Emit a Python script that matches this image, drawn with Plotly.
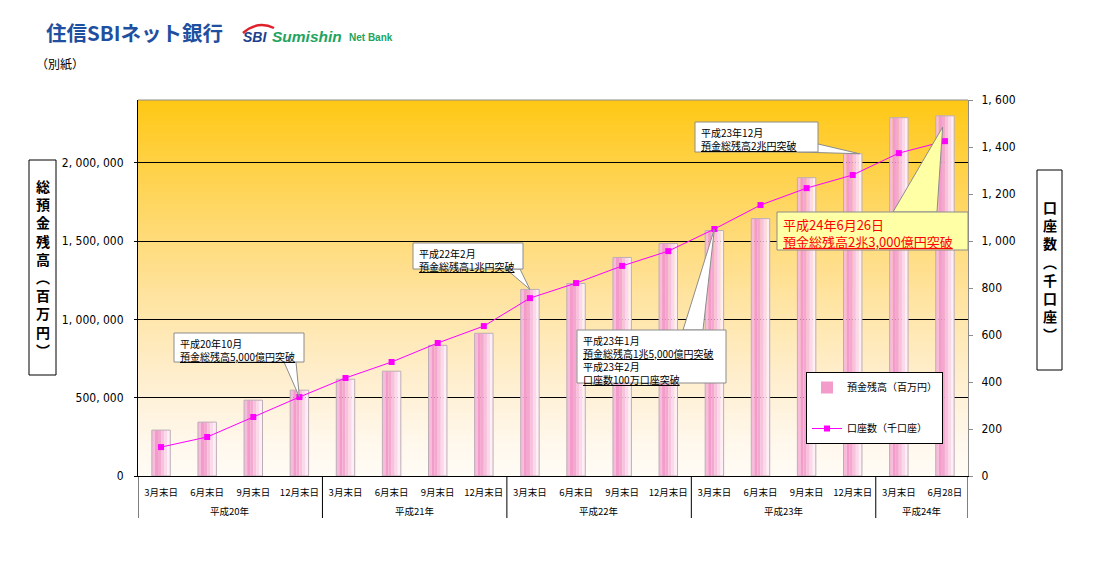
import plotly.graph_objects as go

# ---------------- data ----------------
years = ["平成20年"] * 4 + ["平成21年"] * 4 + ["平成22年"] * 4 + ["平成23年"] * 4 + ["平成24年"] * 2
periods = ["3月末日", "6月末日", "9月末日", "12月末日"] * 4 + ["3月末日", "6月28日"]
deposits = [293000, 344000, 484000, 548000, 618000, 669000, 834000, 911000,
            1191000, 1229000, 1395000, 1484000, 1567000, 1643000, 1904000, 2057000,
            2287000, 2299000]
accounts = [123, 166, 251, 336, 417, 485, 566, 638, 757, 821, 894, 957,
            1051, 1153, 1225, 1281, 1374, 1425]
left_ticks = [0, 500000, 1000000, 1500000, 2000000]
right_ticks = [0, 200, 400, 600, 800, 1000, 1200, 1400, 1600]
left_max = 2400000
right_max = 1600

# ---------------- layout geometry ----------------
W, H = 1094, 565
L, R, T, B = 138, 968, 100, 476
N = len(deposits)
idx = list(range(N))

def X(px):
    return (px - L) / (R - L)

def Y(py):
    return (B - py) / (B - T)

def cx(i, shift=0.0):
    return (i + 0.5 + shift) / N

JP = "Noto Sans CJK JP"
NUM = "Liberation Sans Narrow, DejaVu Sans Condensed, Noto Sans CJK JP"

fig = go.Figure()

bw = 0.4
stripe_colors = ["#f7bcdb", "#f39bca", "#f4a8d0", "#f8c2de", "#fbd9ea", "#feeef6"]
ns = len(stripe_colors)
for k, col in enumerate(stripe_colors):
    fig.add_trace(go.Bar(
        x=idx, y=deposits, width=bw / ns, offset=-bw / 2 + k * bw / ns,
        marker=dict(color=col, line=dict(width=0)),
        name="預金残高（百万円）", legendgroup="a",
        showlegend=(k == 1), hoverinfo="y"))
fig.add_trace(go.Bar(
    x=idx, y=deposits, width=bw, offset=-bw / 2,
    marker=dict(color="rgba(0,0,0,0)", line=dict(color="#bdaeb6", width=1)),
    showlegend=False, hoverinfo="skip"))
fig.add_trace(go.Scatter(
    x=idx, y=accounts, yaxis="y2", mode="lines+markers",
    line=dict(color="#ff00ff", width=1),
    marker=dict(symbol="square", size=6, color="#ff00ff"),
    name="口座数（千口座）", legendgroup="b"))

# ---------------- background gradient ----------------
shapes = []
steps = 90
for s in range(steps):
    y0 = s / steps
    y1 = min((s + 1.6) / steps, 1)
    t = (s + 0.5) / steps
    g = round(252 - 52 * t)
    b = round(245 - 225 * t ** 1.3)
    shapes.append(dict(type="rect", xref="paper", yref="paper", x0=0, x1=1, y0=y0, y1=y1,
                       fillcolor=f"rgb(255,{g},{max(b,0)})", line=dict(width=0), layer="below"))
shapes.append(dict(type="line", xref="paper", yref="paper", x0=0, x1=1, y0=1, y1=1,
                   line=dict(color="#8c8c8c", width=1)))

annotations = []

# ---------------- year group labels and dividers ----------------
groups = []
for i, yname in enumerate(years):
    if not groups or groups[-1][0] != yname:
        groups.append([yname, i, i])
    else:
        groups[-1][2] = i
for yname, i0, i1 in groups:
    annotations.append(dict(xref="x", yref="paper", x=(i0 + i1) / 2, y=Y(511), showarrow=False,
                            xanchor="center", yanchor="middle",
                            text=yname, font=dict(family=JP, size=9.5, color="black")))
    shapes.append(dict(type="line", xref="x", yref="paper", x0=i0 - 0.5, x1=i0 - 0.5,
                       y0=0, y1=Y(518), line=dict(color="black", width=1)))
shapes.append(dict(type="line", xref="x", yref="paper", x0=N - 0.5, x1=N - 0.5,
                   y0=0, y1=Y(518), line=dict(color="black", width=1)))

def P(px, py):
    return f"{X(px):.5f},{Y(py):.5f}"

def callout(box, base, tip, text, fill="white", color="black", size=10):
    x0, y0, x1, y1 = box
    (bx1, by1), (bx2, by2) = base
    tx, ty = tip
    shapes.append(dict(type="path", xref="paper", yref="paper",
                       path=f"M {P(bx1, by1)} L {tx:.5f},{ty:.5f} L {P(bx2, by2)} Z",
                       fillcolor=fill, line=dict(color="#8c8c8c", width=1)))
    shapes.append(dict(type="rect", xref="paper", yref="paper",
                       x0=X(x0), x1=X(x1), y0=Y(y1), y1=Y(y0),
                       fillcolor=fill, line=dict(color="#8c8c8c", width=1)))
    annotations.append(dict(xref="paper", yref="paper", x=X(x0 + 4), y=Y(y0 + 1),
                            xanchor="left", yanchor="top", align="left", showarrow=False,
                            text=text, font=dict(family=JP, size=size, color=color)))

callout((174, 333, 304, 362), ((284, 362), (296, 362)),
        (cx(3), accounts[3] / right_max),
        "平成20年10月<br><u>預金総残高5,000億円突破</u>")
callout((413, 243, 523, 269), ((506, 269), (520, 269)),
        (cx(8), deposits[8] / left_max),
        "平成22年2月<br><u>預金総残高1兆円突破</u>")
callout((577, 330, 726, 383), ((683, 330), (703, 330)),
        (cx(12), accounts[12] / right_max),
        "平成23年1月<br><u>預金総残高1兆5,000億円突破</u><br>平成23年2月<br><u>口座数100万口座突破</u>")
callout((695, 122, 818, 152), ((798, 152), (818, 144)),
        (cx(15, 0.15), deposits[15] / left_max),
        "平成23年12月<br><u>預金総残高2兆円突破</u>")
callout((777, 212, 968, 250), ((893, 212), (937, 212)),
        (cx(17, -0.05), deposits[17] / left_max - 0.03),
        "平成24年6月26日<br><u>預金総残高2兆3,000億円突破</u>",
        fill="#ffffa6", color="#ff0000", size=13)

# ---------------- axis title boxes ----------------
shapes.append(dict(type="rect", xref="paper", yref="paper", x0=X(29), x1=X(56), y0=Y(375), y1=Y(160),
                   line=dict(color="black", width=1), fillcolor="white"))
annotations.append(dict(xref="paper", yref="paper", x=X(42.5), y=Y(267.5), showarrow=False,
                        xanchor="center", yanchor="middle",
                        text="<br>".join("<b>" + c + "</b>" for c in "総預金残高︵百万円︶"),
                        font=dict(family=JP, size=14, color="black")))
shapes.append(dict(type="rect", xref="paper", yref="paper", x0=X(1037), x1=X(1062), y0=Y(370), y1=Y(170),
                   line=dict(color="black", width=1), fillcolor="white"))
annotations.append(dict(xref="paper", yref="paper", x=X(1049.5), y=Y(270), showarrow=False,
                        xanchor="center", yanchor="middle",
                        text="<br>".join("<b>" + c + "</b>" for c in "口座数︵千口座︶"),
                        font=dict(family=JP, size=14, color="black")))

# ---------------- header ----------------
annotations.append(dict(xref="paper", yref="paper", x=X(44), y=Y(32), xanchor="left", yanchor="middle",
                        showarrow=False, text="<b>住信SBIネット銀行</b>",
                        font=dict(family=JP, size=20.5, color="#1f4f9f")))
annotations.append(dict(xref="paper", yref="paper", x=X(241), y=Y(37), xanchor="left", yanchor="middle",
                        showarrow=False, text="<b><i>SBI</i></b>",
                        font=dict(family="Liberation Sans", size=14, color="#1c3f8e")))
annotations.append(dict(xref="paper", yref="paper", x=X(270), y=Y(37), xanchor="left", yanchor="middle",
                        showarrow=False, text="<b><i>Sumishin</i></b>",
                        font=dict(family="Liberation Sans", size=15.5, color="#22a35e")))
annotations.append(dict(xref="paper", yref="paper", x=X(347), y=Y(38), xanchor="left", yanchor="middle",
                        showarrow=False, text="<b>Net Bank</b>",
                        font=dict(family="Liberation Sans", size=10, color="#22a35e")))
shapes.append(dict(type="path", xref="paper", yref="paper",
                   path=f"M {P(243, 33)} Q {P(258, 20)} {P(274, 28)}",
                   line=dict(color="#e0202a", width=2.5)))
annotations.append(dict(xref="paper", yref="paper", x=X(34), y=Y(63), xanchor="left", yanchor="middle",
                        showarrow=False, text="（別紙）",
                        font=dict(family=JP, size=12, color="black")))

fmt = lambda v: f"{v:,}".replace(",", ", ")

fig.update_layout(
    width=W, height=H,
    margin=dict(l=L, r=W - R, t=T, b=H - B, pad=0),
    paper_bgcolor="white", plot_bgcolor="rgba(0,0,0,0)",
    barmode="overlay",
    shapes=shapes, annotations=annotations,
    font=dict(family=JP, color="black"),
    xaxis=dict(range=[-0.5, N - 0.5], tickvals=idx, ticktext=periods, showline=True,
               linecolor="black", linewidth=1, showgrid=False, zeroline=False, ticks="",
               tickangle=0, ticklabelstandoff=8,
               tickfont=dict(family=JP, size=9.5, color="black")),
    yaxis=dict(range=[0, left_max], tickvals=left_ticks, ticktext=[fmt(v) for v in left_ticks],
               showline=True, linecolor="black", linewidth=1, ticks="outside", ticklen=3,
               tickcolor="black", showgrid=True, gridcolor="black", gridwidth=1,
               zeroline=False, tickfont=dict(family=NUM, size=12, color="black"), ticklabelstandoff=8),
    yaxis2=dict(range=[0, right_max], tickvals=right_ticks, ticktext=[fmt(v) for v in right_ticks],
                overlaying="y", side="right", showline=True, linecolor="#8c8c8c", linewidth=1,
                ticks="outside", ticklen=4, tickcolor="#8c8c8c", showgrid=False, zeroline=False,
                tickfont=dict(family=NUM, size=12, color="black"), ticklabelstandoff=6),
    legend=dict(x=X(806), y=Y(372), xanchor="left", yanchor="top", bgcolor="white",
                bordercolor="black", borderwidth=1, font=dict(family=JP, size=10, color="black"),
                tracegroupgap=22, itemwidth=30),
    showlegend=True,
)

fig.write_html("out.html", config={"displayModeBar": False},
               post_script="document.body.style.margin='0';")
